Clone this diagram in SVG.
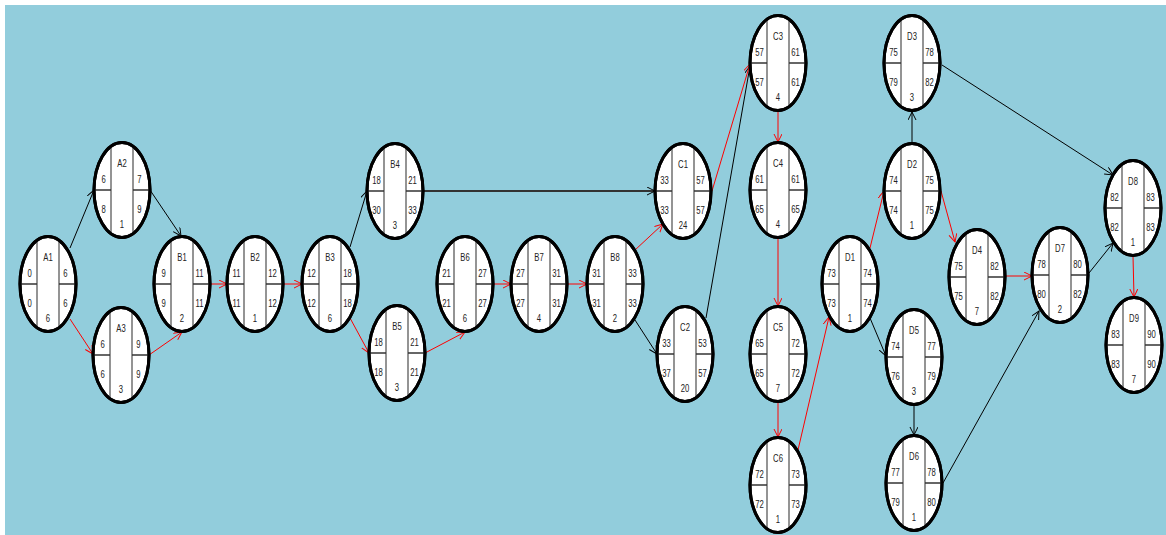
<svg xmlns="http://www.w3.org/2000/svg" xmlns:xlink="http://www.w3.org/1999/xlink" width="1166" height="535" viewBox="0 0 1166 535">
  <style>
    .bg { fill: #92CDDC; }
    .oval { fill: #ffffff; stroke: #000000; stroke-width: 3; }
    .vdiv { stroke: #707070; stroke-width: 1.5; }
    .hdiv { stroke: #333333; stroke-width: 1.5; }
    .t text { font-family: "Liberation Sans", Arial, sans-serif; font-size: 11px; fill: #222222; text-anchor: middle; }
    .crit { stroke: #FF0000; stroke-width: 1; fill: none; marker-end: url(#arrRed); }
    .norm { stroke: #000000; stroke-width: 1; fill: none; marker-end: url(#arrBlack); }
    .heavy { stroke: #333333; stroke-width: 2; fill: none; marker-end: url(#arrBlack); }
  </style>
  <defs>
    <marker id="arrRed" markerUnits="userSpaceOnUse" markerWidth="10" markerHeight="10" refX="8" refY="4" orient="auto">
      <path d="M0,0 L8,4 L0,8" fill="none" stroke="#FF0000" stroke-width="1"/>
    </marker>
    <marker id="arrBlack" markerUnits="userSpaceOnUse" markerWidth="10" markerHeight="10" refX="8" refY="4" orient="auto">
      <path d="M0,0 L8,4 L0,8" fill="none" stroke="#000000" stroke-width="1"/>
    </marker>
    <!-- node shell: oval split into three columns, side columns split in half -->
    <g id="shell">
      <ellipse class="oval" cx="0" cy="0" rx="28" ry="47.5"/>
      <line class="vdiv" x1="-11" y1="-44" x2="-11" y2="44"/>
      <line class="vdiv" x1="11" y1="-44" x2="11" y2="44"/>
      <line class="hdiv" x1="-28" y1="0" x2="-11" y2="0"/>
      <line class="hdiv" x1="11" y1="0" x2="28" y2="0"/>
      <ellipse cx="0" cy="0" rx="28" ry="47.5" fill="none" stroke="#000" stroke-width="3"/>
    </g>
  </defs>

  <rect class="bg" x="5" y="5" width="1161" height="530"/>

  <!-- connectors -->
  <g id="connectors">
    <line class="norm" x1="70" y1="248" x2="94" y2="190"/>
    <line class="crit" x1="70" y1="319" x2="93" y2="354"/>
    <line class="norm" x1="150" y1="190" x2="181" y2="236"/>
    <line class="crit" x1="149" y1="355" x2="182" y2="332"/>
    <line class="crit" x1="210" y1="284" x2="227" y2="284"/>
    <line class="crit" x1="283" y1="284" x2="302" y2="284"/>
    <line class="norm" x1="350" y1="247" x2="367" y2="191"/>
    <line class="crit" x1="350" y1="318" x2="369" y2="353"/>
    <line class="heavy" x1="423" y1="191" x2="655" y2="191"/>
    <line class="crit" x1="425" y1="353" x2="465" y2="332"/>
    <line class="crit" x1="493" y1="284" x2="511" y2="284"/>
    <line class="crit" x1="567" y1="284" x2="587" y2="284"/>
    <line class="crit" x1="635" y1="250" x2="663" y2="224"/>
    <line class="norm" x1="635" y1="320" x2="657" y2="354"/>
    <line class="norm" x1="706" y1="318" x2="750" y2="66"/>
    <line class="crit" x1="712" y1="191" x2="750" y2="64"/>
    <line class="crit" x1="778" y1="111" x2="778" y2="142"/>
    <line class="crit" x1="778" y1="238" x2="778" y2="306"/>
    <line class="crit" x1="778" y1="402" x2="778" y2="437"/>
    <line class="crit" x1="798" y1="450" x2="829" y2="317"/>
    <line class="crit" x1="870" y1="248" x2="884" y2="191"/>
    <line class="norm" x1="870" y1="318" x2="886" y2="356"/>
    <line class="norm" x1="912" y1="143" x2="912" y2="112"/>
    <line class="crit" x1="941" y1="191" x2="955" y2="242"/>
    <line class="norm" x1="942" y1="65" x2="1113" y2="175"/>
    <line class="crit" x1="1005" y1="276" x2="1032" y2="276"/>
    <line class="norm" x1="914" y1="405" x2="914" y2="435"/>
    <line class="norm" x1="943" y1="483" x2="1039" y2="311"/>
    <line class="norm" x1="1089" y1="273" x2="1113" y2="243"/>
    <line class="crit" x1="1133" y1="256" x2="1134" y2="297" stroke="#E03030"/>
  </g>

  <!-- nodes: name, early start / early finish (top), late start / late finish (bottom), duration -->
  <g id="A1" transform="translate(48,284)"><use xlink:href="#shell"/><g class="t" transform="scale(0.7,1)"><text x="0" y="-23">A1</text><text x="-26.4" y="-7">0</text><text x="25" y="-7">6</text><text x="-26.4" y="23">0</text><text x="25" y="23">6</text><text x="0" y="38">6</text></g></g>
  <g id="A2" transform="translate(122,190)"><use xlink:href="#shell"/><g class="t" transform="scale(0.7,1)"><text x="0" y="-23">A2</text><text x="-26.4" y="-7">6</text><text x="25" y="-7">7</text><text x="-26.4" y="23">8</text><text x="25" y="23">9</text><text x="0" y="38">1</text></g></g>
  <g id="A3" transform="translate(121,355)"><use xlink:href="#shell"/><g class="t" transform="scale(0.7,1)"><text x="0" y="-23">A3</text><text x="-26.4" y="-7">6</text><text x="25" y="-7">9</text><text x="-26.4" y="23">6</text><text x="25" y="23">9</text><text x="0" y="38">3</text></g></g>
  <g id="B1" transform="translate(182,284)"><use xlink:href="#shell"/><g class="t" transform="scale(0.7,1)"><text x="0" y="-23">B1</text><text x="-26.4" y="-7">9</text><text x="25" y="-7">11</text><text x="-26.4" y="23">9</text><text x="25" y="23">11</text><text x="0" y="38">2</text></g></g>
  <g id="B2" transform="translate(255,284)"><use xlink:href="#shell"/><g class="t" transform="scale(0.7,1)"><text x="0" y="-23">B2</text><text x="-26.4" y="-7">11</text><text x="25" y="-7">12</text><text x="-26.4" y="23">11</text><text x="25" y="23">12</text><text x="0" y="38">1</text></g></g>
  <g id="B3" transform="translate(330,284)"><use xlink:href="#shell"/><g class="t" transform="scale(0.7,1)"><text x="0" y="-23">B3</text><text x="-26.4" y="-7">12</text><text x="25" y="-7">18</text><text x="-26.4" y="23">12</text><text x="25" y="23">18</text><text x="0" y="38">6</text></g></g>
  <g id="B4" transform="translate(395,191)"><use xlink:href="#shell"/><g class="t" transform="scale(0.7,1)"><text x="0" y="-23">B4</text><text x="-26.4" y="-7">18</text><text x="25" y="-7">21</text><text x="-26.4" y="23">30</text><text x="25" y="23">33</text><text x="0" y="38">3</text></g></g>
  <g id="B5" transform="translate(397,353)"><use xlink:href="#shell"/><g class="t" transform="scale(0.7,1)"><text x="0" y="-23">B5</text><text x="-26.4" y="-7">18</text><text x="25" y="-7">21</text><text x="-26.4" y="23">18</text><text x="25" y="23">21</text><text x="0" y="38">3</text></g></g>
  <g id="B6" transform="translate(465,284)"><use xlink:href="#shell"/><g class="t" transform="scale(0.7,1)"><text x="0" y="-23">B6</text><text x="-26.4" y="-7">21</text><text x="25" y="-7">27</text><text x="-26.4" y="23">21</text><text x="25" y="23">27</text><text x="0" y="38">6</text></g></g>
  <g id="B7" transform="translate(539,284)"><use xlink:href="#shell"/><g class="t" transform="scale(0.7,1)"><text x="0" y="-23">B7</text><text x="-26.4" y="-7">27</text><text x="25" y="-7">31</text><text x="-26.4" y="23">27</text><text x="25" y="23">31</text><text x="0" y="38">4</text></g></g>
  <g id="B8" transform="translate(615,284)"><use xlink:href="#shell"/><g class="t" transform="scale(0.7,1)"><text x="0" y="-23">B8</text><text x="-26.4" y="-7">31</text><text x="25" y="-7">33</text><text x="-26.4" y="23">31</text><text x="25" y="23">33</text><text x="0" y="38">2</text></g></g>
  <g id="C1" transform="translate(683,191)"><use xlink:href="#shell"/><g class="t" transform="scale(0.7,1)"><text x="0" y="-23">C1</text><text x="-26.4" y="-7">33</text><text x="25" y="-7">57</text><text x="-26.4" y="23">33</text><text x="25" y="23">57</text><text x="0" y="38">24</text></g></g>
  <g id="C2" transform="translate(685,354)"><use xlink:href="#shell"/><g class="t" transform="scale(0.7,1)"><text x="0" y="-23">C2</text><text x="-26.4" y="-7">33</text><text x="25" y="-7">53</text><text x="-26.4" y="23">37</text><text x="25" y="23">57</text><text x="0" y="38">20</text></g></g>
  <g id="C3" transform="translate(778,63)"><use xlink:href="#shell"/><g class="t" transform="scale(0.7,1)"><text x="0" y="-23">C3</text><text x="-26.4" y="-7">57</text><text x="25" y="-7">61</text><text x="-26.4" y="23">57</text><text x="25" y="23">61</text><text x="0" y="38">4</text></g></g>
  <g id="C4" transform="translate(778,190)"><use xlink:href="#shell"/><g class="t" transform="scale(0.7,1)"><text x="0" y="-23">C4</text><text x="-26.4" y="-7">61</text><text x="25" y="-7">61</text><text x="-26.4" y="23">65</text><text x="25" y="23">65</text><text x="0" y="38">4</text></g></g>
  <g id="C5" transform="translate(778,354)"><use xlink:href="#shell"/><g class="t" transform="scale(0.7,1)"><text x="0" y="-23">C5</text><text x="-26.4" y="-7">65</text><text x="25" y="-7">72</text><text x="-26.4" y="23">65</text><text x="25" y="23">72</text><text x="0" y="38">7</text></g></g>
  <g id="C6" transform="translate(778,485)"><use xlink:href="#shell"/><g class="t" transform="scale(0.7,1)"><text x="0" y="-23">C6</text><text x="-26.4" y="-7">72</text><text x="25" y="-7">73</text><text x="-26.4" y="23">72</text><text x="25" y="23">73</text><text x="0" y="38">1</text></g></g>
  <g id="D1" transform="translate(850,284)"><use xlink:href="#shell"/><g class="t" transform="scale(0.7,1)"><text x="0" y="-23">D1</text><text x="-26.4" y="-7">73</text><text x="25" y="-7">74</text><text x="-26.4" y="23">73</text><text x="25" y="23">74</text><text x="0" y="38">1</text></g></g>
  <g id="D2" transform="translate(912,191)"><use xlink:href="#shell"/><g class="t" transform="scale(0.7,1)"><text x="0" y="-23">D2</text><text x="-26.4" y="-7">74</text><text x="25" y="-7">75</text><text x="-26.4" y="23">74</text><text x="25" y="23">75</text><text x="0" y="38">1</text></g></g>
  <g id="D3" transform="translate(912,63)"><use xlink:href="#shell"/><g class="t" transform="scale(0.7,1)"><text x="0" y="-23">D3</text><text x="-26.4" y="-7">75</text><text x="25" y="-7">78</text><text x="-26.4" y="23">79</text><text x="25" y="23">82</text><text x="0" y="38">3</text></g></g>
  <g id="D4" transform="translate(977,277)"><use xlink:href="#shell"/><g class="t" transform="scale(0.7,1)"><text x="0" y="-23">D4</text><text x="-26.4" y="-7">75</text><text x="25" y="-7">82</text><text x="-26.4" y="23">75</text><text x="25" y="23">82</text><text x="0" y="38">7</text></g></g>
  <g id="D5" transform="translate(914,357)"><use xlink:href="#shell"/><g class="t" transform="scale(0.7,1)"><text x="0" y="-23">D5</text><text x="-26.4" y="-7">74</text><text x="25" y="-7">77</text><text x="-26.4" y="23">76</text><text x="25" y="23">79</text><text x="0" y="38">3</text></g></g>
  <g id="D6" transform="translate(914,483)"><use xlink:href="#shell"/><g class="t" transform="scale(0.7,1)"><text x="0" y="-23">D6</text><text x="-26.4" y="-7">77</text><text x="25" y="-7">78</text><text x="-26.4" y="23">79</text><text x="25" y="23">80</text><text x="0" y="38">1</text></g></g>
  <g id="D7" transform="translate(1060,275)"><use xlink:href="#shell"/><g class="t" transform="scale(0.7,1)"><text x="0" y="-23">D7</text><text x="-26.4" y="-7">78</text><text x="25" y="-7">80</text><text x="-26.4" y="23">80</text><text x="25" y="23">82</text><text x="0" y="38">2</text></g></g>
  <g id="D8" transform="translate(1133,208)"><use xlink:href="#shell"/><g class="t" transform="scale(0.7,1)"><text x="0" y="-23">D8</text><text x="-26.4" y="-7">82</text><text x="25" y="-7">83</text><text x="-26.4" y="23">82</text><text x="25" y="23">83</text><text x="0" y="38">1</text></g></g>
  <g id="D9" transform="translate(1134,345)"><use xlink:href="#shell"/><g class="t" transform="scale(0.7,1)"><text x="0" y="-23">D9</text><text x="-26.4" y="-7">83</text><text x="25" y="-7">90</text><text x="-26.4" y="23">83</text><text x="25" y="23">90</text><text x="0" y="38">7</text></g></g>
</svg>
